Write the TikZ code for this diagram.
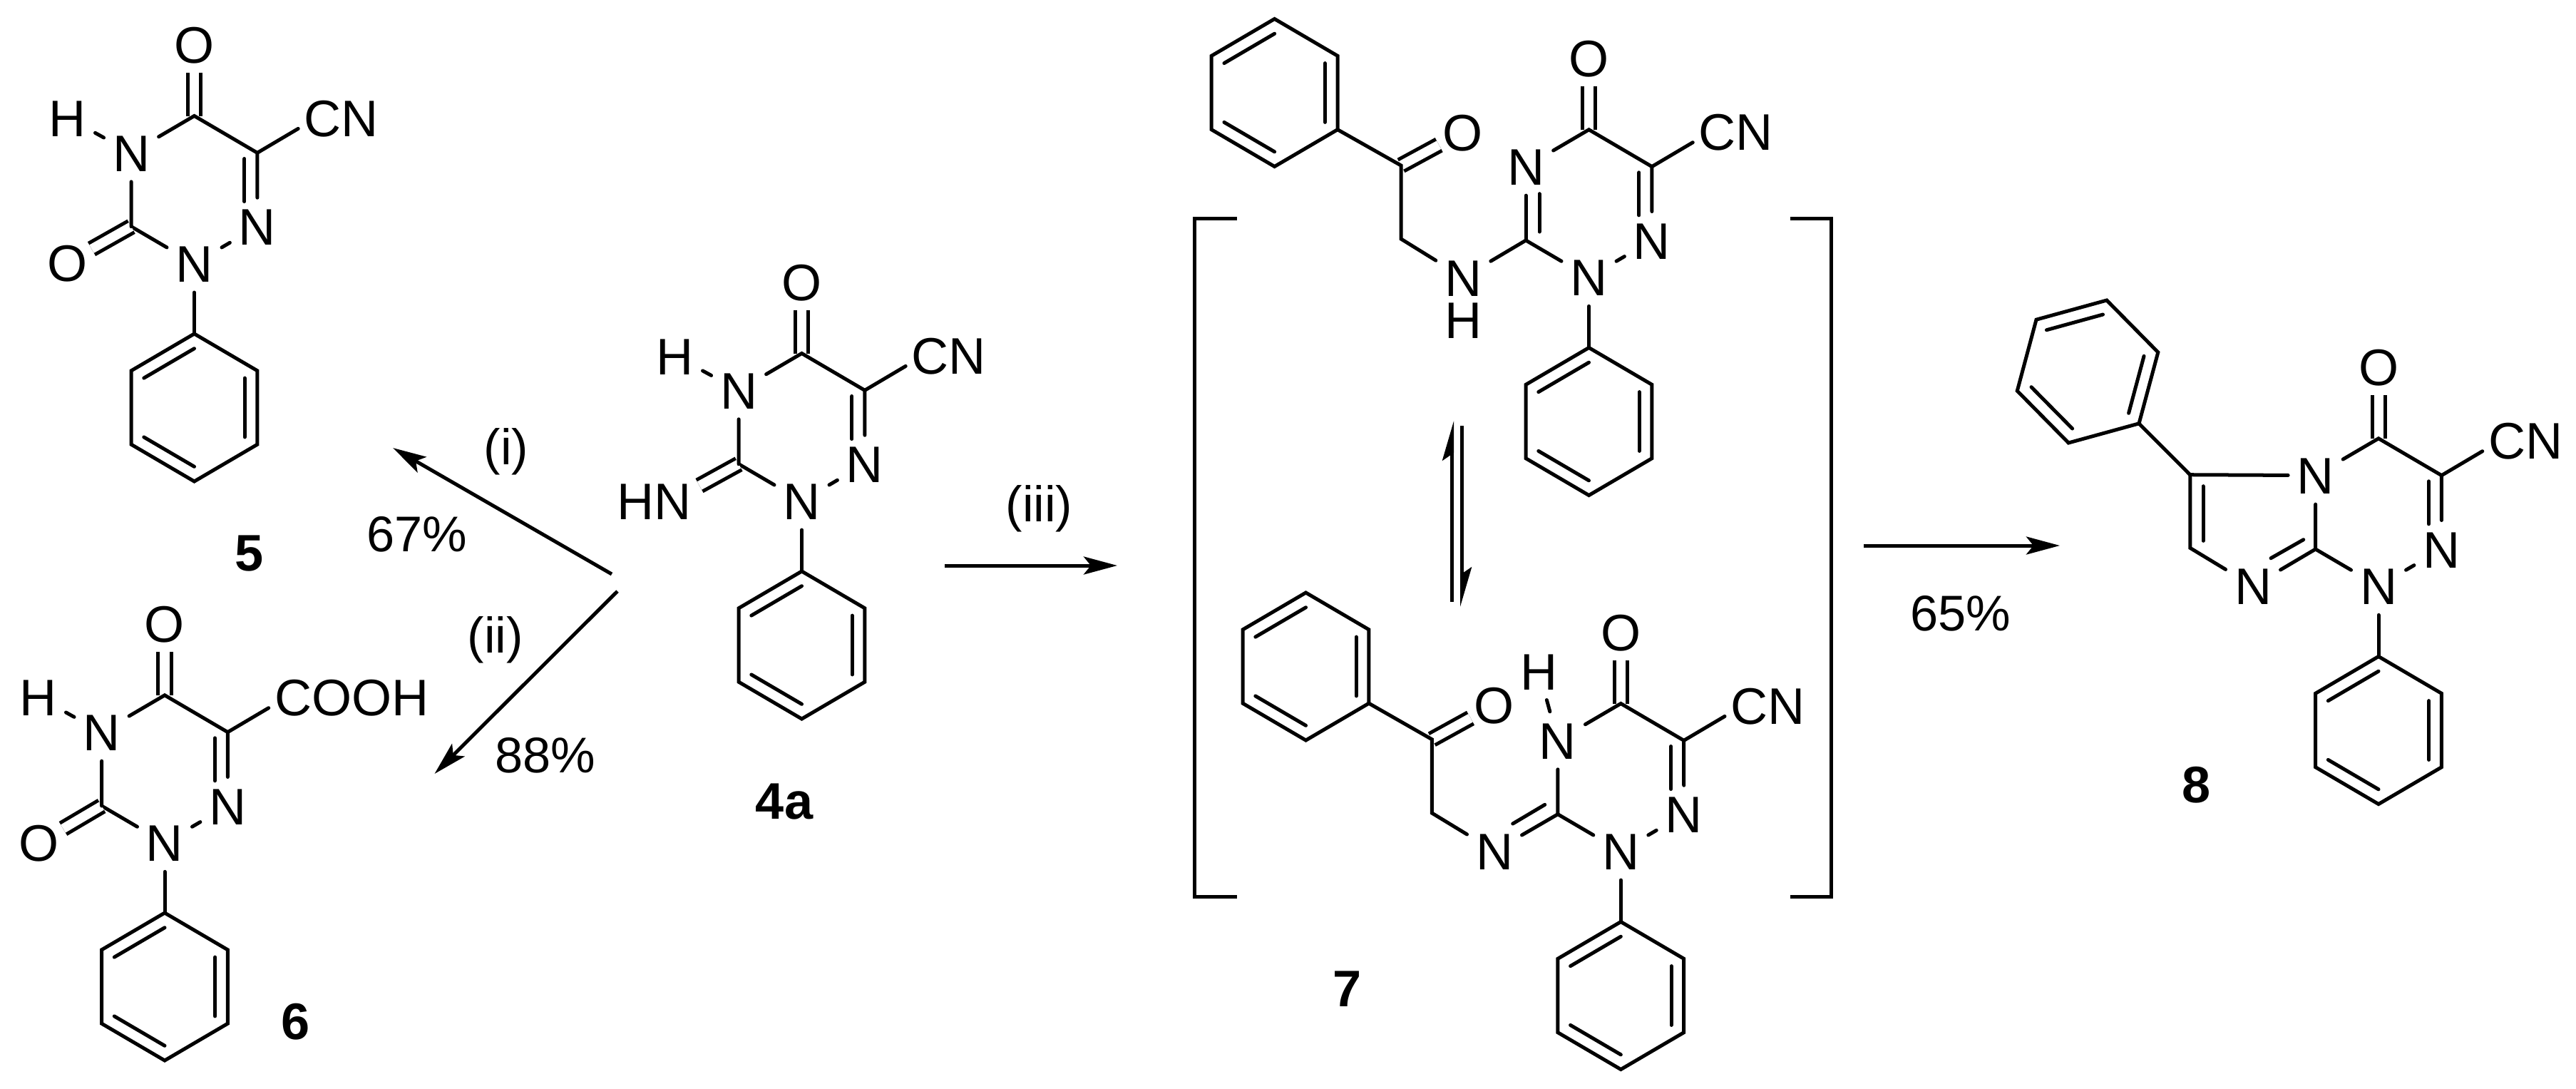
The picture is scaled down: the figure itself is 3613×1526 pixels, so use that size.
\documentclass[tikz,border=0pt]{standalone}
\usepackage{fontspec}
\setmainfont{Liberation Sans}
\usetikzlibrary{arrows.meta}

\tikzset{
    atom/.style={inner sep=0pt, minimum width=.72cm, minimum height=.76cm, text height=.52cm, text depth=0cm, font=\fontsize{20.5}{24}\selectfont},
    oatom/.style={atom, minimum width=.62cm, minimum height=.74cm},
    grp/.style={inner sep=0pt, text height=.52cm, text depth=0cm, font=\fontsize{20.5}{24}\selectfont},
    lbl/.style={inner sep=0pt, font=\fontsize{20}{24}\selectfont},
    num/.style={inner sep=0pt, font=\fontsize{20.5}{24}\selectfont\bfseries},
    dbond/.style={double, double distance=.13cm, line cap=butt},
    brk/.style={line cap=butt},
    rxn/.style={line cap=butt, -{Stealth[length=.47cm, width=.25cm, inset=.1cm]}},
    eqm/.style={line cap=butt, -{Stealth[harpoon, length=.47cm, width=.27cm, inset=.09cm]}},
    pics/phenyl/.style={code={
        \coordinate (-a) at (0,-103.5);
        \coordinate (-b) at (88.4,-51.7);
        \coordinate (-c) at (88.4,51.7);
        \coordinate (-d) at (0,103.5);
        \coordinate (-e) at (-88.4,51.7);
        \coordinate (-f) at (-88.4,-51.7);
        \draw (-a) -- (-b) -- (-c) -- (-d) -- (-e) -- (-f) -- cycle;
        \draw (0,-82.8) -- (-70.7,-41.4);
        \draw (70.7,-41.4) -- (70.7,41.4);
        \draw (0,82.8) -- (-70.7,41.4);
    }},
    pics/core/.style={code={
        \coordinate (-c5) at (0,-103.5);
        \coordinate (-c6) at (88.4,-51.7);
        \coordinate (-c3) at (-88.4,51.7);
        \coordinate (-gb) at (145.7,-85.6);
        \node[atom] (-n2) at (88.4,51.7) {N};
        \node[atom] (-n1) at (0,103.5) {N};
        \node[atom] (-n4) at (-88.4,-51.7) {N};
        \node[oatom] (-o) at (0,-203.5) {O};
        \node[grp, anchor=west] (-g) at (151.5,-101) {#1};
        \draw[dbond] (-c5) -- (-o);
        \draw (-n4) -- (-c5) -- (-c6) -- (-n2) -- (-n1) -- (-c3);
        \draw (-c6) -- (-gb);
        \draw (70.4,-43.5) -- (70.4,16.5);
    }}
}

\begin{document}
\begin{tikzpicture}[x=.01cm, y=-.01cm, line width=.05cm, line join=miter, line cap=round]
    \useasboundingbox (0,0) rectangle (3613,1526);

    % Compound 5
    \pic (m5) at (272.5,266) {core=CN};
    \pic (p5) at (272.5,571.5) {phenyl};
    \node[atom] (m5h) at (95,165) {H};
    \node[oatom] (m5o) at (95,368) {O};
    \draw[dbond] (m5-c3) -- (m5o);
    \draw (m5-c3) -- (m5-n4) -- (m5h);
    \draw (m5-n1) -- (p5-a);
    \node[num] (l5) at (350,776) {5};

    % Compound 6
    \pic (m6) at (231,1078.3) {core=COOH};
    \pic (p6) at (231,1383.5) {phenyl};
    \node[atom] (m6h) at (54,977.7) {H};
    \node[oatom] (m6o) at (55,1181.7) {O};
    \draw[dbond] (m6-c3) -- (m6o);
    \draw (m6-c3) -- (m6-n4) -- (m6h);
    \draw (m6-n1) -- (p6-a);
    \node[num] (l6) at (415,1433) {6};

    % Compound 4a
    \pic (m4) at (1124.5,599) {core=CN};
    \pic (p4) at (1124.5,904.5) {phenyl};
    \node[atom] (m4h) at (947,499) {H};
    \node[grp, anchor=east] (m4nh) at (972,702.7) {HN};
    \coordinate (m4x) at (981,681);
    \draw[dbond] (m4-c3) -- (m4x);
    \draw (m4-c3) -- (m4-n4) -- (m4h);
    \draw (m4-n1) -- (p4-a);
    \node[num] (l4) at (1100,1124) {4a};

    % Compound 7, upper form
    \pic (m7) at (2228.5,285.3) {core=CN};
    \pic (p7) at (2228.5,591) {phenyl};
    \pic (q7) at (1787.6,130) {phenyl};
    \coordinate (m7co) at (1965,232);
    \coordinate (m7ch) at (1965,335);
    \node[atom, minimum height=.64cm] (m7n) at (2052.3,389) {N};
    \node[grp] (m7h) at (2052,448.3) {H};
    \node[oatom] (m7o) at (2051.7,185) {O};
    \draw[dbond] (m7co) -- (m7o);
    \draw (q7-c) -- (m7co) -- (m7ch) -- (m7n) -- (m7-c3);
    \draw (m7-c3) -- (m7-n4);
    \draw (2159,271.7) -- (2159,325);
    \draw (m7-n1) -- (p7-a);

    % Compound 7, lower form
    \pic (n7) at (2273.3,1090) {core=CN};
    \pic (r7) at (2273.3,1396) {phenyl};
    \pic (s7) at (1831.5,934.5) {phenyl};
    \coordinate (n7co) at (2008.3,1036.7);
    \coordinate (n7ch) at (2008.3,1140);
    \node[atom] (n7n) at (2096,1193.3) {N};
    \node[atom] (n7h) at (2158.3,941) {H};
    \node[oatom] (n7o) at (2096,988.3) {O};
    \draw[dbond] (n7co) -- (n7o);
    \draw (n7-c3) -- (n7n);
    \draw (2121.7,1155) -- (2166.7,1128.3);
    \draw (s7-c) -- (n7co) -- (n7ch) -- (n7n);
    \draw (n7-c3) -- (n7-n4) -- (n7h);
    \draw (n7-n1) -- (r7-a);
    \node[num] (l7) at (1890,1387) {7};

    % Brackets
    \draw[brk] (1735,306.6) -- (1675.6,306.6) -- (1675.6,1257.4) -- (1735,1257.4);
    \draw[brk] (2510.6,306.6) -- (2568.7,306.6) -- (2568.7,1257.4) -- (2510.6,1257.4);

    % Compound 8
    \pic (m8) at (3336,718.3) {core=CN};
    \pic (p8) at (3336,1024) {phenyl};
    \pic[rotate=-15] (q8) at (2928,521) {phenyl};
    \coordinate (c8a) at (3071.7,665.7);
    \coordinate (c8b) at (3071.7,768.3);
    \node[atom] (n8) at (3160,821.7) {N};
    \draw (q8-c) -- (c8a) -- (m8-n4);
    \draw (c8a) -- (c8b) -- (n8) -- (m8-c3) -- (m8-n4);
    \draw (3090,681.7) -- (3090,758.3);
    \draw (3185,782.7) -- (3230.7,756.7);
    \draw (m8-n1) -- (p8-a);
    \node[num] (l8) at (3080,1101) {8};

    % Arrows
    \coordinate (a1s) at (858,805);
    \coordinate (a1e) at (551,628);
    \coordinate (a2s) at (866,829);
    \coordinate (a2e) at (609.5,1085);
    \coordinate (a3s) at (1325,793);
    \coordinate (a3e) at (1567,793);
    \coordinate (a4s) at (2614,765);
    \coordinate (a4e) at (2889,765);
    \coordinate (e1s) at (2036.5,844);
    \coordinate (e1e) at (2036.5,590);
    \coordinate (e2s) at (2050.5,597);
    \coordinate (e2e) at (2050.5,851);
    \draw[rxn] (a1s) -- (a1e);
    \draw[rxn] (a2s) -- (a2e);
    \draw[rxn] (a3s) -- (a3e);
    \draw[rxn] (a4s) -- (a4e);
    \draw[eqm] (e1s) -- (e1e);
    \draw[eqm] (e2s) -- (e2e);

    % Arrow labels
    \node[lbl] (ti) at (710,633) {(i)};
    \node[lbl] (ty1) at (585,749) {67\%};
    \node[lbl] (tii) at (695,897) {(ii)};
    \node[lbl] (ty2) at (765,1059) {88\%};
    \node[lbl] (tiii) at (1457.5,713) {(iii)};
    \node[lbl] (ty3) at (2750,860) {65\%};
\end{tikzpicture}
\end{document}
